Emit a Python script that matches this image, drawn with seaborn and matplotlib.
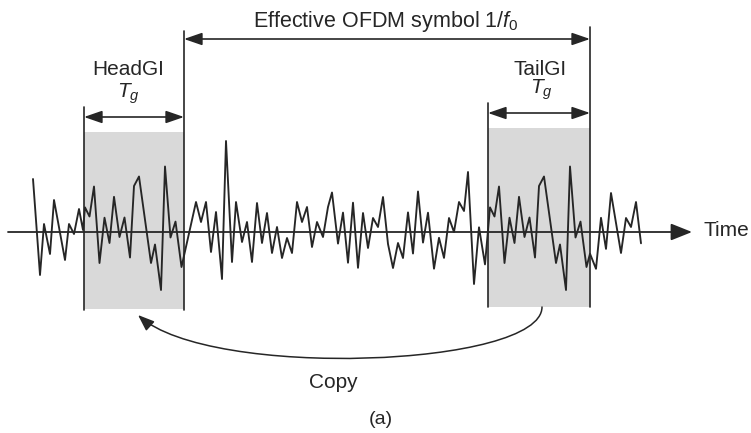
import numpy as np
import pandas as pd
import matplotlib
matplotlib.use("Agg")
import matplotlib.pyplot as plt
from matplotlib.patches import FancyArrowPatch, Rectangle, ArrowStyle
from matplotlib.path import Path
import seaborn as sns

# ---------------- data (amplitude relative to the time axis) ----------------
pre_x = [33, 40, 44, 50, 54, 65, 69, 74, 79, 83]
pre_amp = [53, -43, 8, -22, 32, -28, 8, -2, 23, 2]

# guard-interval samples (TailGI copied to HeadGI)
gi_dx = [0, 4.5, 9, 14.5, 19.5, 24.5, 29, 34.5, 39.5, 45, 49, 54, 66, 70, 76, 80, 85.5, 90.5, 96.5]
gi_amp = [24.6, 15.5, 45.5, -31, 14.3, -11, 35.2, -5, 14.5, -25.5, 46, 55.5, -31, -12.5, -58, 65.5, -5.5, 10.4, -35]
head_start = 85
tail_start = 490

body_x = [196, 201, 206, 211, 216, 222, 226, 232, 236, 242, 247, 252, 257, 262, 267, 272, 277, 282,
          287, 292, 297, 302, 307, 312, 317, 323, 328, 332, 338, 343, 348, 353, 358, 363, 368, 373,
          378, 383, 388, 393, 398, 403, 408, 413, 418, 423, 428, 434, 439, 444, 449, 454, 459, 464,
          468, 474, 479, 485]
body_amp = [30, 10, 30, -20, 20, -47, 91, -30, 30, -10, 10, -30, 29, -11, 19, -21, 5, -26,
            -6, -21, 30, 10, 25, -15, 10, -5, 25, 39.5, -11.6, 19.4, -30.7, 29.3, -35.8, 19, -16, 14,
            5, 35, -12, -36, -11, -26, 19.6, -21.5, 40.5, -10.6, 19.3, -36.7, -5.8, -25.9, 14, 0, 30, 21,
            60, -52, 4.7, -32.4]

post_x = [590, 596, 601, 606, 611, 621, 626, 631, 636, 641]
post_amp = [-21.7, -36.8, 14.2, -16.9, 39, -21, 14, 5, 30, -11.3]

labels_top = "Effective OFDM symbol 1/$f_0$"
label_head = "HeadGI"
label_tail = "TailGI"
label_tg = "$T_g$"
label_time = "Time"
label_copy = "Copy"
label_sub = "(a)"

# ---------------- figure ----------------
sns.set_style("white")
plt.rcParams['font.family'] = ['Liberation Sans', 'DejaVu Sans']
plt.rcParams['mathtext.fontset'] = 'custom'
plt.rcParams['mathtext.rm'] = 'Liberation Sans'
plt.rcParams['mathtext.it'] = 'Liberation Sans:italic'

fig = plt.figure(figsize=(7.51, 4.33), dpi=100)
ax = fig.add_axes([0, 0, 1, 1])

ink = '#262626'
shade = '#d9d9d9'

# shaded guard interval boxes
ax.add_patch(Rectangle((84, -77), 100, 177, facecolor=shade, edgecolor='none', zorder=0))
ax.add_patch(Rectangle((488, -75), 102, 179, facecolor=shade, edgecolor='none', zorder=0))

# waveform
xs = pre_x + [head_start + d for d in gi_dx] + body_x + [tail_start + d for d in gi_dx] + post_x
ys = pre_amp + gi_amp + body_amp + gi_amp + post_amp
df = pd.DataFrame({"t": xs, "amp": ys})
sns.lineplot(data=df, x="t", y="amp", sort=False, estimator=None, color=ink, linewidth=1.35, ax=ax, zorder=3)
ax.set_xlim(0, 751)
ax.set_ylim(-201, 232)
ax.axis('off')

# time axis with arrow
ax.annotate('', xy=(692, 0), xytext=(8, 0),
            arrowprops=dict(arrowstyle=ArrowStyle('-|>', head_length=13, head_width=5.2),
                            mutation_scale=1, color=ink, lw=1.3, shrinkA=0, shrinkB=0), zorder=2)
ax.text(703, 2, label_time, fontsize=15, color=ink, ha='left', va='center')

# vertical boundary lines
for x, top, bot in [(84, 125, -78), (184, 201, -78), (488, 129, -75), (590, 205, -75)]:
    ax.plot([x, x], [top, bot], color=ink, lw=1.2, zorder=4)

dbl = ArrowStyle('<|-|>', head_length=11, head_width=3.8)
# effective symbol arrow
ax.annotate('', xy=(590, 193), xytext=(184, 193),
            arrowprops=dict(arrowstyle=dbl, mutation_scale=1, color=ink, lw=1.2, shrinkA=0, shrinkB=0))
ax.text(386, 205, labels_top, fontsize=15.5, color=ink, ha='center', va='baseline')

# guard interval arrows
ax.annotate('', xy=(184, 115), xytext=(84, 115),
            arrowprops=dict(arrowstyle=dbl, mutation_scale=1, color=ink, lw=1.2, shrinkA=0, shrinkB=0))
ax.annotate('', xy=(590, 119), xytext=(488, 119),
            arrowprops=dict(arrowstyle=dbl, mutation_scale=1, color=ink, lw=1.2, shrinkA=0, shrinkB=0))
ax.text(128, 157, label_head, fontsize=15, color=ink, ha='center', va='baseline')
ax.text(128, 134, label_tg, fontsize=15, color=ink, ha='center', va='baseline')
ax.text(540, 157, label_tail, fontsize=15, color=ink, ha='center', va='baseline')
ax.text(541, 138, label_tg, fontsize=15, color=ink, ha='center', va='baseline')

# copy arrow
verts = [(542, -75), (542, -135), (210, -148), (138, -83)]
codes = [Path.MOVETO, Path.CURVE4, Path.CURVE4, Path.CURVE4]
ax.add_patch(FancyArrowPatch(path=Path(verts, codes),
                             arrowstyle=ArrowStyle('-|>', head_length=10, head_width=3.8),
                             mutation_scale=1, color=ink, lw=1.1))
ax.text(333, -151, label_copy, fontsize=15, color=ink, ha='center', va='center')
ax.text(381, -188, label_sub, fontsize=14, color=ink, ha='center', va='center')

fig.savefig("out.png", dpi=100, facecolor='white')
